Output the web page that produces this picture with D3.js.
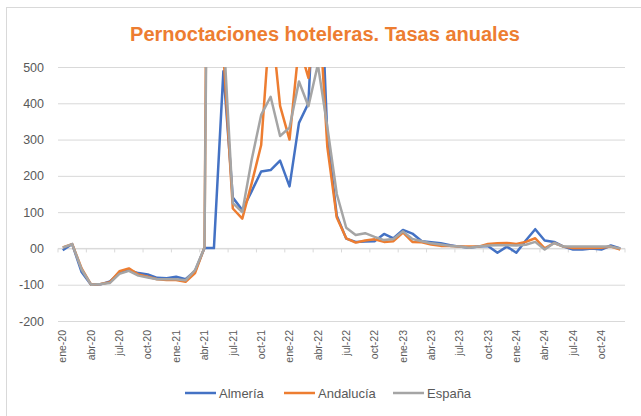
<!DOCTYPE html>
<html>
<head>
<meta charset="utf-8">
<script src="https://cdn.jsdelivr.net/npm/d3@7"></script>
<style>
  body { margin: 0; background: #fff; }
  svg { display: block; font-family: "Liberation Sans", Arial, sans-serif; }
</style>
</head>
<body>
<svg id="chart" width="641" height="416"></svg>
<script>
'use strict';

/* Datos */

var meses = ["ene", "feb", "mar", "abr", "may", "jun", "jul", "ago", "sep", "oct", "nov", "dic"];
var anios = ["20", "21", "22", "23", "24"];
var categorias = [];
anios.forEach(function(a) {
	meses.forEach(function(m) { categorias.push(m + "-" + a); });
});

var almeria = [-5, 12, -65, -100, -99, -91, -67, -60, -68, -72, -81, -82,
	-78, -85, -62, 1, 1, 488, 140, 106, 158, 212, 216, 242,
	171, 346, 400, 950, 310, 90, 27, 18, 19, 20, 40, 28,
	51, 41, 20, 17, 14, 9, 5, 2, 5, 7, -12, 5,
	-12, 22, 53, 22, 18, 5, -3, -3, 0, -3, 8, 0];

var andalucia = [3, 12, -55, -100, -98, -93, -63, -55, -72, -78, -85, -87,
	-87, -92, -68, 3, 3500, 540, 110, 82, 180, 285, 650, 393,
	300, 560, 470, 720, 280, 85, 28, 16, 22, 25, 18, 20,
	44, 18, 17, 11, 7, 7, 5, 5, 5, 12, 14, 15,
	12, 18, 28, 0, 15, 5, 1, 1, 1, 2, 5, -3];

var espana = [2, 12, -58, -100, -98, -95, -70, -62, -75, -80, -85, -85,
	-85, -88, -60, 2, 3000, 600, 125, 100, 245, 368, 418, 310,
	333, 460, 392, 507, 335, 150, 57, 37, 42, 32, 23, 26,
	47, 26, 20, 14, 11, 7, 5, 2, 5, 8, 9, 9,
	8, 10, 18, -3, 15, 5, 5, 5, 5, 5, 5, 0];

var yTicks = [-200, -100, 0, 100, 200, 300, 400, 500];

var series = [
	{ name: "Almería", values: almeria, color: "#4472C4" },
	{ name: "Andalucía", values: andalucia, color: "#ED7D31" },
	{ name: "España", values: espana, color: "#A5A5A5" }
];

/* Dibujo */

var svg = d3.select("#chart");
var plotLeft = 58, plotRight = 625, plotTop = 67, plotBottom = 321;

// marco del grafico
svg.append("rect")
	.attr("x", 6.5).attr("y", 7.5)
	.attr("width", 700).attr("height", 500)
	.attr("fill", "none")
	.attr("stroke", "#D9D9D9");

svg.append("text")
	.attr("x", 325).attr("y", 41)
	.attr("text-anchor", "middle")
	.attr("fill", "#ED7D31")
	.style("font-size", "20px")
	.style("font-weight", "bold")
	.text("Pernoctaciones hoteleras. Tasas anuales");

var x = d3.scaleBand().domain(categorias).range([plotLeft, plotRight]).padding(0);
var y = d3.scaleLinear().domain([-200, 500]).range([plotBottom, plotTop]);

// rejilla
svg.append("g")
	.attr("transform", "translate(" + plotLeft + ",0)")
	.call(d3.axisLeft(y).tickValues(yTicks).tickSize(-(plotRight - plotLeft)).tickFormat(""))
	.call(function(g) {
		g.select(".domain").remove();
		g.selectAll("line").attr("stroke", "#D9D9D9");
	});

// etiquetas eje y
svg.append("g")
	.attr("transform", "translate(44,0)")
	.call(d3.axisLeft(y).tickValues(yTicks).tickSize(0).tickPadding(0)
		.tickFormat(function(d) { return d === 0 ? "00" : d; }))
	.call(function(g) {
		g.select(".domain").remove();
		g.selectAll("text").attr("fill", "#595959").style("font-size", "12.5px");
	});

// eje x en el cero, marcas cada tres meses
var marcas = categorias.filter(function(d, i) { return i % 3 === 0; });
var xAxis = svg.append("g");
xAxis.append("line")
	.attr("x1", plotLeft).attr("x2", plotRight)
	.attr("y1", y(0)).attr("y2", y(0))
	.attr("stroke", "#D9D9D9");
xAxis.selectAll("line.tick")
	.data(marcas.map(function(d) { return x(d); }).concat([plotRight]))
	.enter().append("line")
	.attr("class", "tick")
	.attr("x1", function(d) { return d; }).attr("x2", function(d) { return d; })
	.attr("y1", y(0)).attr("y2", y(0) + 4)
	.attr("stroke", "#D9D9D9");

// etiquetas de meses bajo el area de trazado
svg.append("g")
	.attr("transform", "translate(0," + (plotBottom + 9) + ")")
	.call(d3.axisBottom(x).tickValues(marcas).tickSize(0).tickPadding(0))
	.call(function(g) {
		g.select(".domain").remove();
		g.selectAll("text")
			.attr("fill", "#595959")
			.style("font-size", "10.5px")
			.attr("text-anchor", "end")
			.attr("dy", "0.35em")
			.attr("y", 0)
			.attr("transform", "rotate(-90)");
	});

svg.append("clipPath").attr("id", "area")
	.append("rect")
	.attr("x", plotLeft).attr("y", plotTop)
	.attr("width", plotRight - plotLeft).attr("height", plotBottom - plotTop);

var line = d3.line()
	.x(function(d, i) { return x(categorias[i]) + x.bandwidth() / 2; })
	.y(function(d) { return y(d); });

svg.append("g").attr("clip-path", "url(#area)")
	.selectAll("path").data(series)
	.enter().append("path")
	.attr("d", function(s) { return line(s.values); })
	.attr("fill", "none")
	.attr("stroke", function(s) { return s.color; })
	.attr("stroke-width", 2.5)
	.attr("stroke-linejoin", "round");

// leyenda
var leyendaX = [185, 284, 393];
var leyenda = svg.append("g").selectAll("g").data(series)
	.enter().append("g")
	.attr("transform", function(d, i) { return "translate(" + leyendaX[i] + ",393)"; });
leyenda.append("line")
	.attr("x1", 0).attr("x2", 31)
	.attr("stroke", function(d) { return d.color; })
	.attr("stroke-width", 2.5);
leyenda.append("text")
	.attr("x", 34).attr("dy", "0.35em")
	.attr("fill", "#595959")
	.style("font-size", "13px")
	.text(function(d) { return d.name; });
</script>
</body>
</html>
